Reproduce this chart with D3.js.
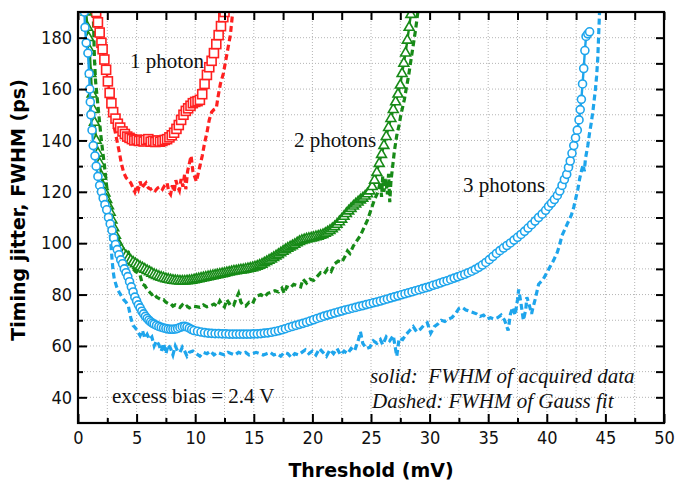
<!DOCTYPE html>
<html>
<head>
<meta charset="utf-8">
<script src="https://cdnjs.cloudflare.com/ajax/libs/d3/7.8.5/d3.min.js"></script>
<style>
body { margin: 0; background: #fff; }
</style>
</head>
<body>
<svg id="chart" width="677" height="483"></svg>
<script>
// [threshold mV, jitter ps]
var redSolid = [[1.55,190],[1.7,186],[1.85,182],[2.0,178],[2.1,175.5],[2.25,171.5],[2.4,167.5],[2.55,163],[2.7,158.5],[2.85,154.5],[3.0,151],[3.2,148.5],[3.4,146.5],[3.6,145],[3.8,143.5],[4.0,142.5],[4.2,141.5],[4.4,141],[4.6,140.5],[4.8,140],[5.0,140.3],[5.2,139.8],[5.4,140],[5.6,139.6],[5.8,140.2],[6.0,140.5],[6.2,139.5],[6.4,139.8],[6.6,139.4],[6.8,140],[7.0,139.5],[7.2,139.8],[7.4,140.2],[7.6,140.5],[7.8,141.2],[8.0,142],[8.2,143],[8.4,144.5],[8.6,146],[8.8,148],[9.0,150],[9.2,151.5],[9.4,152.5],[9.6,153.5],[9.8,154.5],[10.0,155],[10.2,155.3],[10.4,155.8],[10.6,158],[10.8,162],[11.0,165.5],[11.2,168.5],[11.4,171],[11.6,174],[11.8,177.5],[12.0,181],[12.2,184.5],[12.4,188],[12.5,190]];

var redDashed = [[3.1,145],[3.3,140.5],[3.5,136],[3.7,131],[3.9,127.5],[4.1,125.5],[4.3,124.5],[4.5,123.5],[4.7,121.5],[4.85,120],[5.0,122.5],[5.15,121],[5.3,124],[5.45,121.5],[5.6,122.5],[5.8,123.5],[6.0,121.5],[6.2,121],[6.4,121.5],[6.6,120.5],[6.8,121.5],[7.0,122],[7.2,121],[7.4,122.5],[7.6,123.5],[7.75,120],[7.9,119],[8.05,122.5],[8.2,120],[8.35,124.5],[8.5,122],[8.65,120.5],[8.8,125],[8.95,122],[9.1,127],[9.2,121],[9.35,128],[9.5,131],[9.65,134],[9.8,128],[9.95,126],[10.1,124],[10.25,127],[10.4,130],[10.6,134],[10.8,139],[11.0,143],[11.2,148],[11.4,151],[11.6,152],[11.8,152.5],[11.95,157],[12.15,162],[12.4,166],[12.6,171],[12.8,176],[13.0,181],[13.2,190]];

var greenSolid = [[0.7,190],[0.8,184],[0.9,180],[1.0,175],[1.1,166],[1.2,158],[1.3,152],[1.4,147],[1.55,140],[1.7,135],[1.85,131],[2.0,126],[2.15,122],[2.3,119.5],[2.45,117],[2.6,114.5],[2.75,112],[2.9,109],[3.05,106],[3.2,103],[3.35,100.5],[3.5,99],[3.7,97.5],[3.9,96],[4.1,95],[4.3,94],[4.5,93.3],[4.7,92.6],[4.9,92],[5.1,91.4],[5.3,90.8],[5.5,90.3],[5.7,89.8],[5.9,89.3],[6.1,88.8],[6.3,88.3],[6.5,87.8],[6.7,87.4],[6.9,87],[7.1,86.7],[7.3,86.4],[7.5,86.1],[7.7,85.9],[7.9,85.7],[8.1,85.5],[8.3,85.4],[8.5,85.3],[8.7,85.2],[8.9,85.2],[9.1,85.2],[9.3,85.3],[9.5,85.4],[9.7,85.5],[9.9,85.7],[10.1,85.9],[10.3,86.1],[10.5,86.3],[10.7,86.5],[10.9,86.7],[11.1,86.9],[11.3,87.1],[11.5,87.3],[11.7,87.5],[11.9,87.7],[12.1,87.9],[12.3,88.1],[12.5,88.3],[12.7,88.5],[12.9,88.7],[13.1,88.9],[13.3,89.1],[13.5,89.2],[13.7,89.4],[13.9,89.5],[14.1,89.6],[14.3,89.8],[14.5,90],[14.7,90.2],[14.9,90.4],[15.1,90.7],[15.3,91],[15.5,91.4],[15.7,91.8],[15.9,92.3],[16.1,92.8],[16.3,93.3],[16.5,93.8],[16.7,94.4],[16.9,95],[17.1,95.6],[17.3,96.2],[17.5,96.8],[17.7,97.4],[17.9,98],[18.1,98.5],[18.3,99],[18.5,99.5],[18.7,100.1],[18.9,100.6],[19.1,101],[19.3,101.3],[19.5,101.6],[19.7,101.8],[19.9,102],[20.1,102.2],[20.3,102.5],[20.5,102.7],[20.7,103],[20.9,103.3],[21.1,103.8],[21.3,104.3],[21.5,104.9],[21.7,105.6],[21.9,106.4],[22.1,107.3],[22.3,108.3],[22.5,109.3],[22.7,110.4],[22.9,111.5],[23.1,112.5],[23.3,113.5],[23.5,114.4],[23.7,115.2],[23.9,116],[24.1,116.8],[24.3,117.5],[24.5,118.3],[24.7,119.2],[24.9,120.3],[25.1,122],[25.3,124.5],[25.5,127.5],[25.7,131],[25.9,134.5],[26.1,138],[26.3,141.5],[26.5,145],[26.7,148.5],[26.9,152],[27.1,155],[27.3,158],[27.5,161.5],[27.65,166],[27.8,170],[27.95,174],[28.1,179],[28.25,184],[28.4,189]];

var greenDashed = [[1.3,190],[1.4,172],[1.5,163],[1.65,156],[1.8,149],[1.95,142],[2.1,136],[2.25,130.5],[2.4,124],[2.55,118],[2.7,113],[2.85,108],[3.0,104],[3.15,101.5],[3.35,99],[3.6,98],[3.85,97.5],[4.1,97],[4.3,96.5],[4.5,93],[4.7,90],[4.9,89],[5.1,88.5],[5.3,87.5],[5.5,84],[5.7,83.5],[5.9,82],[6.1,81],[6.3,80],[6.5,80.5],[6.7,79],[6.9,78.5],[7.1,78],[7.3,78],[7.5,77],[7.7,76.5],[7.9,76.5],[8.1,75.5],[8.3,76],[8.5,75.5],[8.7,75],[8.9,76],[9.1,75],[9.3,75.5],[9.5,74.8],[9.8,75.5],[10.1,75.3],[10.4,75],[10.7,76],[11.0,75.2],[11.3,75.6],[11.6,76.3],[11.9,75.4],[12.1,77.5],[12.3,76],[12.5,75.2],[12.7,78],[12.9,76.5],[13.1,77],[13.3,76],[13.5,78.5],[13.7,80.5],[13.9,77],[14.1,75.8],[14.3,75.5],[14.6,77],[14.9,76.5],[15.1,78.5],[15.3,79.5],[15.6,80],[15.9,79],[16.2,80.5],[16.5,81],[16.8,81.5],[17.1,81],[17.4,82.5],[17.6,80.5],[17.8,83],[18.1,82.5],[18.4,84],[18.7,83.5],[19.0,83],[19.2,86],[19.5,84.5],[19.8,86],[20.1,85.5],[20.4,87],[20.7,88.5],[21.0,88],[21.3,90],[21.6,89],[21.9,92],[22.2,93],[22.5,92.5],[22.8,95],[23.0,97],[23.2,96],[23.5,99],[23.8,101],[24.1,103],[24.4,106],[24.7,109],[25.0,113],[25.3,117],[25.6,120],[25.8,124],[25.9,118],[26.0,126],[26.1,120],[26.25,125],[26.4,119],[26.5,127],[26.6,116],[26.7,124],[26.85,130],[27.0,136],[27.2,142],[27.4,146],[27.55,150],[27.7,153],[27.85,156],[28.0,160],[28.2,165],[28.4,171],[28.6,177],[28.8,183],[29.0,190]];

var blueSolid = [[0.55,190],[0.6,184],[0.7,178],[0.85,174],[0.95,166],[1.0,160],[1.05,155],[1.1,150],[1.2,144],[1.3,138],[1.45,134],[1.55,130],[1.7,126],[1.85,122.5],[2.0,120],[2.15,117.5],[2.3,115],[2.45,113],[2.6,110],[2.75,107.5],[2.9,105],[3.05,102],[3.2,99.5],[3.35,97.5],[3.5,95.5],[3.65,93.5],[3.8,92],[3.95,90],[4.1,88.5],[4.25,87],[4.4,85],[4.55,83],[4.7,81],[4.85,79],[5.0,77.5],[5.15,76],[5.3,74.8],[5.45,73.5],[5.6,72.5],[5.75,71.5],[5.9,70.7],[6.05,70],[6.2,69.4],[6.35,68.9],[6.5,68.5],[6.7,68],[6.9,67.6],[7.1,67.3],[7.3,67],[7.5,66.8],[7.7,66.6],[7.9,66.5],[8.1,66.5],[8.3,66.6],[8.5,66.8],[8.7,67.2],[8.9,67.5],[9.1,67.6],[9.3,67.4],[9.5,66.9],[9.7,66.4],[9.9,66],[10.2,65.7],[10.5,65.4],[10.8,65.2],[11.1,65],[11.4,64.9],[11.7,64.8],[12.0,64.8],[12.3,64.7],[12.6,64.7],[12.9,64.6],[13.2,64.6],[13.5,64.6],[13.8,64.6],[14.1,64.6],[14.4,64.6],[14.7,64.6],[15.0,64.7],[15.3,64.7],[15.6,64.8],[15.9,65],[16.2,65.1],[16.5,65.3],[16.8,65.6],[17.1,65.9],[17.4,66.3],[17.7,66.7],[18.0,67.2],[18.3,67.6],[18.6,68],[18.9,68.4],[19.2,68.8],[19.5,69.2],[19.8,69.7],[20.1,70.2],[20.4,70.7],[20.7,71.1],[21.0,71.6],[21.3,72],[21.6,72.4],[21.9,72.8],[22.2,73.2],[22.5,73.6],[22.8,74],[23.1,74.3],[23.4,74.7],[23.7,75],[24.0,75.4],[24.3,75.7],[24.6,76.1],[24.9,76.4],[25.2,76.8],[25.5,77.1],[25.8,77.5],[26.1,77.9],[26.4,78.3],[26.7,78.7],[27.0,79.1],[27.3,79.5],[27.6,79.9],[27.9,80.3],[28.2,80.7],[28.5,81.1],[28.8,81.5],[29.1,81.9],[29.4,82.3],[29.7,82.7],[30.0,83.1],[30.3,83.6],[30.6,84],[30.9,84.5],[31.2,85],[31.5,85.4],[31.8,85.9],[32.1,86.4],[32.4,86.9],[32.7,87.4],[33.0,87.9],[33.3,88.5],[33.6,89.1],[33.9,89.8],[34.2,90.6],[34.5,91.5],[34.8,92.5],[35.1,93.6],[35.4,94.8],[35.7,96],[36.0,97.1],[36.3,98.1],[36.6,99.1],[36.9,100.1],[37.2,101.2],[37.5,102.3],[37.8,103.4],[38.1,104.6],[38.4,105.9],[38.7,107.2],[39.0,108.6],[39.3,110],[39.6,111.3],[39.9,112.8],[40.15,114.3],[40.4,115.6],[40.65,117],[40.9,118.6],[41.1,120.3],[41.3,122.5],[41.5,124.8],[41.7,126.8],[41.85,129.5],[42.0,132],[42.15,135],[42.3,138],[42.45,141],[42.6,144],[42.75,148],[42.85,152],[42.95,156],[43.05,162],[43.15,168],[43.25,175],[43.35,180.5],[43.5,181.5],[43.65,182.3]];

var blueDashed = [[2.7,107],[2.8,100],[2.9,94],[3.0,89],[3.1,86],[3.3,83],[3.5,81],[3.7,79.5],[3.9,78],[4.1,77],[4.3,75.5],[4.5,71],[4.7,68],[4.9,67],[5.1,65.5],[5.3,64],[5.5,66],[5.7,63],[5.9,64.5],[6.1,62.5],[6.3,63.5],[6.5,60],[6.7,62],[6.9,60.5],[7.1,58],[7.3,61],[7.5,57],[7.7,60.5],[7.9,59],[8.1,56.5],[8.3,60],[8.5,58],[8.7,57.5],[8.9,59.5],[9.1,58],[9.3,56],[9.5,57.5],[9.8,58],[10.1,57],[10.4,56],[10.7,57.5],[11.0,57],[11.3,58],[11.6,56.5],[11.9,57.5],[12.2,57],[12.5,56.5],[12.8,57.5],[13.1,57],[13.4,56.5],[13.7,57.5],[14.0,57],[14.3,57.5],[14.6,56.5],[14.9,57],[15.2,57.5],[15.5,57],[15.8,56.5],[16.1,57],[16.4,57.5],[16.7,56.5],[17.0,57],[17.3,56],[17.6,57.5],[17.9,57],[18.2,55.5],[18.5,57],[18.8,56.5],[19.1,57.5],[19.4,58.5],[19.7,57],[20.0,58],[20.3,56.5],[20.6,59],[20.9,57.5],[21.2,56],[21.5,58.5],[21.8,57],[22.1,59],[22.4,56.5],[22.7,58],[23.0,57],[23.3,59],[23.6,58],[23.9,62],[24.1,65.5],[24.3,61],[24.6,59],[24.9,59.5],[25.2,62],[25.5,61],[25.8,62.5],[26.0,60.5],[26.3,63.5],[26.6,62],[26.9,64],[27.2,56],[27.4,63],[27.7,62.5],[28.0,64.5],[28.3,66],[28.6,67.5],[28.9,65.5],[29.2,66.5],[29.5,68],[29.8,69],[30.1,65],[30.4,67.5],[30.7,68.5],[31.0,70],[31.3,69.5],[31.6,70.5],[31.9,71],[32.2,72.5],[32.5,74.5],[32.8,75],[33.1,74],[33.4,73.5],[33.7,73],[34.0,72.5],[34.3,71.5],[34.6,72],[34.9,70.5],[35.2,71],[35.5,70.5],[35.8,71],[36.1,72],[36.4,70],[36.7,66],[36.9,72.5],[37.1,75],[37.3,72],[37.5,78],[37.6,82],[37.8,76.5],[38.0,70],[38.2,74],[38.3,79],[38.5,76],[38.7,72.5],[38.8,74.5],[39.0,78],[39.3,84],[39.5,85],[39.7,86],[40.0,88.5],[40.3,91],[40.6,93.5],[40.9,96.5],[41.1,99.5],[41.3,103],[41.5,105],[41.7,107],[41.9,109],[42.1,111],[42.3,114],[42.5,118],[42.65,121],[42.8,125],[42.95,128],[43.1,130.5],[43.2,128],[43.3,133],[43.5,138],[43.65,143],[43.8,147],[43.95,152],[44.05,156],[44.15,160],[44.25,165],[44.35,172],[44.4,178],[44.45,184],[44.5,190]];

var xTicks = [0, 5, 10, 15, 20, 25, 30, 35, 40, 45, 50];
var xMinorTicks = [2.5, 7.5, 12.5, 17.5, 22.5, 27.5, 32.5, 37.5, 42.5, 47.5];
var yTicks = [40, 60, 80, 100, 120, 140, 160, 180];
var yMinorTicks = [50, 70, 90, 110, 130, 150, 170];

var red = '#ff2020', green = '#178a17', blue = '#1ea5ec';

var svg = d3.select('#chart');
// note: "top" is taken by window.top, so plot box uses its own names
var plotL = 78, plotR = 664, plotT = 12, plotB = 423;

var x = d3.scaleLinear().domain([0, 50]).range([plotL, plotR]);
var y = d3.scaleLinear().domain([30, 190]).range([plotB, plotT]);

svg.append('rect').attr('width', 677).attr('height', 483).attr('fill', '#fff');

// dotted grid, every minor tick
var grid = svg.append('g').attr('stroke', '#b4b4b4').attr('stroke-width', 1).attr('stroke-dasharray', '1,2');
grid.selectAll('.gx').data(xTicks.concat(xMinorTicks).filter(function(d){ return d > 0 && d < 50; }))
    .enter().append('line')
    .attr('x1', function(d){ return x(d); }).attr('x2', function(d){ return x(d); })
    .attr('y1', plotT).attr('y2', plotB);
grid.selectAll('.gy').data(yTicks.concat(yMinorTicks))
    .enter().append('line')
    .attr('y1', function(d){ return y(d); }).attr('y2', function(d){ return y(d); })
    .attr('x1', plotL).attr('x2', plotR);

svg.append('clipPath').attr('id', 'clip')
    .append('rect').attr('x', plotL).attr('y', plotT).attr('width', plotR - plotL).attr('height', plotB - plotT);

var plot = svg.append('g').attr('clip-path', 'url(#clip)');
var line = d3.line().x(function(d){ return x(d[0]); }).y(function(d){ return y(d[1]); });

// dashed = gauss fit
[[redDashed, red], [greenDashed, green], [blueDashed, blue]].forEach(function(s){
    plot.append('path').datum(s[0])
        .attr('fill', 'none').attr('stroke', s[1]).attr('stroke-width', 3.2)
        .attr('stroke-dasharray', '6,3.5')
        .attr('d', line);
});

// solid lines + open markers
var series = [[redSolid, red, 'square'], [greenSolid, green, 'triangle'], [blueSolid, blue, 'circle']];
series.forEach(function(s){
    plot.append('path').datum(s[0])
        .attr('fill', 'none').attr('stroke', s[1]).attr('stroke-width', 2.4)
        .attr('d', line);
    var g = plot.append('g').attr('fill', '#fff').attr('stroke', s[1]).attr('stroke-width', 1.6);
    if (s[2] === 'square'){
        g.selectAll('rect').data(s[0]).enter().append('rect')
            .attr('x', function(d){ return x(d[0]) - 4.5; })
            .attr('y', function(d){ return y(d[1]) - 4.5; })
            .attr('width', 9).attr('height', 9);
    } else if (s[2] === 'triangle'){
        var tri = d3.symbol().type(d3.symbolTriangle).size(42);
        g.selectAll('path').data(s[0]).enter().append('path')
            .attr('transform', function(d){ return 'translate(' + x(d[0]) + ',' + y(d[1]) + ')'; })
            .attr('d', tri);
    } else {
        g.selectAll('circle').data(s[0]).enter().append('circle')
            .attr('cx', function(d){ return x(d[0]); })
            .attr('cy', function(d){ return y(d[1]); })
            .attr('r', 4);
    }
});

// axes, ticks pointing inward on all four sides
var tickFont = '"DejaVu Sans Condensed", "DejaVu Sans", sans-serif';
var titleFont = '"DejaVu Sans", sans-serif';
function styleAxis(g){
    g.select('.domain').remove();
    g.selectAll('line').attr('stroke', '#000').attr('stroke-width', 2);
    g.selectAll('text').attr('font-family', tickFont).attr('font-size', 18).attr('fill', '#111');
}
svg.append('g').attr('transform', 'translate(0,' + plotB + ')')
    .call(d3.axisBottom(x).tickValues(xTicks).tickSize(-9).tickPadding(8))
    .call(styleAxis);
svg.append('g').attr('transform', 'translate(0,' + plotB + ')')
    .call(d3.axisBottom(x).tickValues(xMinorTicks).tickSize(-5).tickFormat(''))
    .call(styleAxis);
svg.append('g').attr('transform', 'translate(0,' + plotT + ')')
    .call(d3.axisTop(x).tickValues(xTicks.concat(xMinorTicks)).tickSize(-8).tickFormat(''))
    .call(styleAxis);
svg.append('g').attr('transform', 'translate(' + plotL + ',0)')
    .call(d3.axisLeft(y).tickValues(yTicks).tickSize(-9).tickPadding(6))
    .call(styleAxis);
svg.append('g').attr('transform', 'translate(' + plotL + ',0)')
    .call(d3.axisLeft(y).tickValues(yMinorTicks).tickSize(-5).tickFormat(''))
    .call(styleAxis);
svg.append('g').attr('transform', 'translate(' + plotR + ',0)')
    .call(d3.axisRight(y).tickValues(yTicks.concat(yMinorTicks)).tickSize(-8).tickFormat(''))
    .call(styleAxis);

// frame
svg.append('rect').attr('x', plotL).attr('y', plotT).attr('width', plotR - plotL).attr('height', plotB - plotT)
    .attr('fill', 'none').attr('stroke', '#000').attr('stroke-width', 2.2);

// axis titles
svg.append('text').attr('x', (plotL + plotR) / 2).attr('y', 477)
    .attr('text-anchor', 'middle').attr('font-family', titleFont).attr('font-weight', 'bold')
    .attr('font-size', 19).text('Threshold (mV)');
svg.append('text').attr('transform', 'translate(25,210) rotate(-90)')
    .attr('text-anchor', 'middle').attr('font-family', titleFont).attr('font-weight', 'bold')
    .attr('font-size', 19).text('Timing jitter, FWHM (ps)');

// annotations
var serif = '"Liberation Serif", "Times New Roman", serif';
var notes = [
    {t: '1 photon', x: 130, y: 68, it: false},
    {t: '2 photons', x: 294, y: 147, it: false},
    {t: '3 photons', x: 463, y: 192, it: false},
    {t: 'excess bias = 2.4 V', x: 112, y: 403, it: false},
    {t: 'solid:  FWHM of acquired data', x: 370, y: 383, it: true},
    {t: 'Dashed: FWHM of Gauss fit', x: 372, y: 408, it: true}
];
svg.selectAll('.note').data(notes).enter().append('text')
    .attr('x', function(d){ return d.x; }).attr('y', function(d){ return d.y; })
    .attr('font-family', serif).attr('font-size', 21)
    .attr('font-style', function(d){ return d.it ? 'italic' : 'normal'; })
    .attr('fill', '#111')
    .style('white-space', 'pre')
    .text(function(d){ return d.t; });
</script>
</body>
</html>
